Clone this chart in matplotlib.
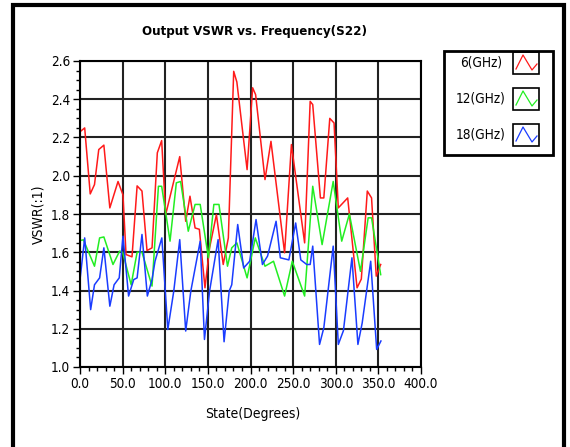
import matplotlib
matplotlib.use("Agg")
import matplotlib.pyplot as plt
from matplotlib import font_manager as fm
from matplotlib.patches import Rectangle
from matplotlib.ticker import MultipleLocator, FormatStrFormatter

# Data (state in degrees, VSWR)
deg_6 = [0, 5.5, 12, 17, 22, 28, 35, 44.6, 50.4, 54, 61, 67, 72.7, 78.6, 84.5, 90.7, 95.8,
         100.5, 117, 124, 129, 135, 140, 146.6, 152, 160, 168, 174, 180.3, 184, 196, 202.5,
         206, 217, 224, 240, 248, 263.5, 270, 273, 282, 286, 293, 298, 303, 314, 325, 330,
         337, 342, 347.5, 352.7]
vswr_6 = [2.23, 2.25, 1.905, 1.954, 2.137, 2.16, 1.832, 1.97, 1.90, 1.588, 1.576, 1.947, 1.92,
          1.609, 1.623, 2.12, 2.184, 1.797, 2.10, 1.762, 1.893, 1.727, 1.72, 1.414, 1.623,
          1.797, 1.536, 1.675, 2.546, 2.49, 2.032, 2.46, 2.424, 1.98, 2.18, 1.597, 2.163,
          1.649, 2.389, 2.372, 1.884, 1.884, 2.30, 2.276, 1.832, 1.884, 1.414, 1.46, 1.92,
          1.884, 1.475, 1.536]

deg_12 = [0, 4, 17, 23, 28, 38.7, 46.5, 50, 60, 67, 72.7, 84.5, 92, 95.8, 105.6, 113, 118,
          127, 135, 141, 150.6, 157, 163, 173, 178, 184, 196, 205.6, 217, 227, 240, 249,
          263.5, 273, 284, 297, 307, 316, 329, 338, 342, 352.7]
vswr_12 = [1.661, 1.665, 1.527, 1.675, 1.68, 1.536, 1.606, 1.60, 1.43, 1.60, 1.60, 1.423,
           1.945, 1.945, 1.658, 1.963, 1.97, 1.71, 1.85, 1.85, 1.571, 1.85, 1.85, 1.527,
           1.623, 1.649, 1.466, 1.675, 1.527, 1.553, 1.371, 1.553, 1.371, 1.945, 1.64, 1.97,
           1.658, 1.80, 1.50, 1.78, 1.78, 1.483]

deg_18 = [0, 5.5, 12.5, 17, 23, 28, 35, 40, 46, 50.4, 57, 63, 67, 72.7, 79, 84.5, 88, 96,
          103, 110, 117, 124, 130, 141, 146, 152, 162, 169, 175, 178, 185, 192, 199, 206.5,
          214, 220, 230, 235, 245, 253, 259, 266, 270, 273, 281, 286, 297, 303, 309, 319,
          326, 331, 341, 348, 353]
vswr_18 = [1.457, 1.675, 1.30, 1.43, 1.466, 1.623, 1.318, 1.43, 1.466, 1.684, 1.371, 1.457,
           1.466, 1.693, 1.371, 1.457, 1.553, 1.675, 1.196, 1.397, 1.666, 1.188, 1.397,
           1.658, 1.144, 1.397, 1.666, 1.132, 1.397, 1.43, 1.745, 1.518, 1.553, 1.771,
           1.536, 1.58, 1.762, 1.571, 1.56, 1.753, 1.56, 1.536, 1.536, 1.632, 1.118, 1.205,
           1.632, 1.118, 1.19, 1.571, 1.118, 1.23, 1.553, 1.092, 1.136]

labels = ['6(GHz)', '12(GHz)', '18(GHz)']
colors = ['#ff1a1a', '#22ee22', '#1a3cff']


# look for a narrow sans font, the original text is quite condensed
def find_font(bold):
    want = 700 if bold else 400
    best, best_score = None, None
    for f in fm.fontManager.ttflist:
        if f.style != 'normal':
            continue
        st = str(f.stretch)
        narrow = ('Narrow' in f.name or 'Condensed' in f.name or
                  st in ('condensed', 'semi-condensed'))
        if not narrow or 'Extra' in f.name or 'Ultra' in f.name:
            continue
        try:
            w = int(f.weight)
        except ValueError:
            w = 700 if 'bold' in str(f.weight) else 400
        score = abs(w - want) + (0 if st == 'semi-condensed' else 5)
        if best_score is None or score < best_score:
            best, best_score = f, score
    return best


reg, bld = find_font(False), find_font(True)
if reg is not None:
    fp = fm.FontProperties(fname=reg.fname)
    fpb = fm.FontProperties(fname=bld.fname if bld is not None else reg.fname)
else:
    fp = fm.FontProperties(family='Liberation Sans')
    fpb = fm.FontProperties(family='Liberation Sans', weight='bold')

W, H = 570, 447
fig = plt.figure(figsize=(W / 100, H / 100), dpi=100)
renderer = fig.canvas.get_renderer()


def fx(px):
    return px / W


def fy(py):
    return 1 - py / H


def fit(txt, target):
    # scale the font so the text spans about as many pixels as in the reference
    w = txt.get_window_extent(renderer).width
    txt.set_fontsize(txt.get_fontsize() * target / w)
    return txt.get_fontsize()


ax = fig.add_axes([fx(80), fy(367), fx(421) - fx(80), fy(61) - fy(367)])
for d, v, c in zip([deg_6, deg_12, deg_18], [vswr_6, vswr_12, vswr_18], colors):
    ax.plot(d, v, color=c, lw=1.1)

ax.set_xlim(0, 400)
ax.set_ylim(1.0, 2.6)
ax.xaxis.set_major_locator(MultipleLocator(50))
ax.xaxis.set_minor_locator(MultipleLocator(10))
ax.yaxis.set_major_locator(MultipleLocator(0.2))
ax.yaxis.set_minor_locator(MultipleLocator(0.05))
ax.xaxis.set_major_formatter(FormatStrFormatter('%.1f'))
ax.yaxis.set_major_formatter(FormatStrFormatter('%.1f'))
ax.tick_params(which='major', length=5, width=1, pad=2)
ax.tick_params(which='minor', length=3, width=1)

probe = fig.text(0.5, 0.5, '400.0', fontproperties=fp, fontsize=10)
tick_fs = fit(probe, 35)
probe.remove()
for t in ax.get_xticklabels() + ax.get_yticklabels():
    t.set_fontproperties(fp)
    t.set_fontsize(tick_fs)

ax.grid(True, which='major', color='#222222', lw=1.5)
ax.set_axisbelow(True)
for s in ax.spines.values():
    s.set_linewidth(1.5)

title = fig.text(fx(255), fy(32), 'Output VSWR vs. Frequency(S22)', ha='center', va='center',
                 fontproperties=fpb, fontsize=10)
fit(title, 225)
xl = fig.text(fx(253), fy(414), 'State(Degrees)', ha='center', va='center',
              fontproperties=fp, fontsize=10)
lab_fs = fit(xl, 95)
fig.text(fx(38), fy(214), 'VSWR(:1)', ha='center', va='center', rotation=90,
         fontproperties=fp, fontsize=lab_fs)

# legend box
fig.patches.append(Rectangle((fx(444), fy(155)), fx(553) - fx(444), fy(51) - fy(155),
                             transform=fig.transFigure, fill=False, ec='black', lw=2))
rows = [63, 99, 135]
probe = fig.text(0.5, 0.5, labels[2], fontproperties=fp, fontsize=10)
leg_fs = fit(probe, 50)
probe.remove()
for lab, c, r in zip(labels, colors, rows):
    fig.text(fx(481), fy(r), lab, ha='center', va='center', fontproperties=fp, fontsize=leg_fs)
    fig.patches.append(Rectangle((fx(513), fy(r + 11)), fx(539) - fx(513), fy(r - 11) - fy(r + 11),
                                 transform=fig.transFigure, fill=False, ec='black', lw=1.2))
    gx = [516, 523, 532, 537]
    gy = [r + 6, r - 8, r + 7, r + 1]
    fig.lines.append(plt.Line2D([fx(p) for p in gx], [fy(p) for p in gy],
                                transform=fig.transFigure, color=c, lw=0.9))

# outer frame
fig.patches.append(Rectangle((fx(13), fy(460)), fx(564) - fx(13), fy(5) - fy(460),
                             transform=fig.transFigure, fill=False, ec='black', lw=3))

fig.savefig('out.png', dpi=100)
